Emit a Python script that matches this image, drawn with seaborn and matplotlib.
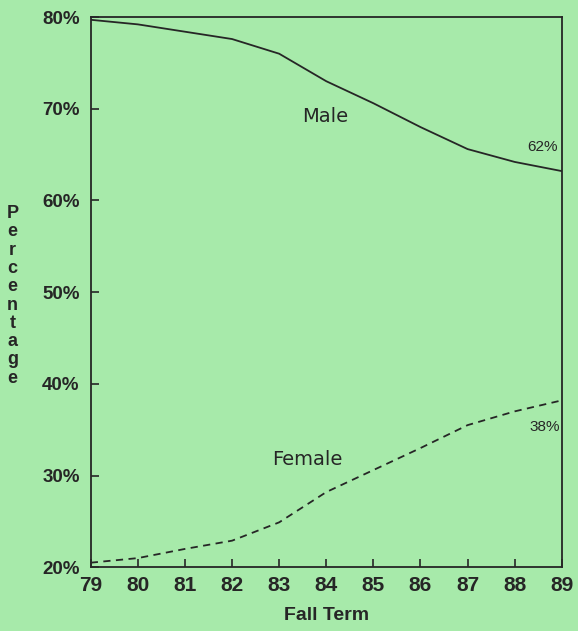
import matplotlib
matplotlib.use("Agg")
import matplotlib.pyplot as plt
import seaborn as sns
import pandas as pd

years = [79, 80, 81, 82, 83, 84, 85, 86, 87, 88, 89]
male = [79.7, 79.2, 78.4, 77.6, 76.0, 73.0, 70.6, 68.0, 65.6, 64.2, 63.2]
female = [20.5, 21.0, 22.0, 22.9, 24.9, 28.2, 30.6, 33.0, 35.5, 37.0, 38.2]
yticks = [20, 30, 40, 50, 60, 70, 80]
ytick_labels = ["20%", "30%", "40%", "50%", "60%", "70%", "80%"]

bg = "#a7eaaa"
ink = "#262626"

sns.set_theme(style="white")
plt.rcParams['font.family'] = ['Liberation Sans', 'DejaVu Sans']

fig = plt.figure(figsize=(5.78, 6.31), dpi=100, facecolor=bg)
ax = fig.add_axes([0.157, 0.101, 0.815, 0.872])
ax.set_facecolor(bg)

df = pd.DataFrame({"year": years * 2,
                   "pct": male + female,
                   "sex": ["Male"] * len(years) + ["Female"] * len(years)})
sns.lineplot(data=df[df.sex == "Male"], x="year", y="pct", color=ink, lw=1.3, ax=ax)
sns.lineplot(data=df[df.sex == "Female"], x="year", y="pct", color=ink, lw=1.3,
             ax=ax, linestyle=(0, (4, 3)))

ax.set_xlim(79, 89)
ax.set_ylim(20, 80)
ax.set_xticks(years)
ax.set_xticklabels([str(y) for y in years], fontsize=15, fontweight="bold", color=ink)
ax.set_yticks(yticks)
ax.set_yticklabels(ytick_labels, fontsize=13.5, fontweight="bold", color=ink)
ax.tick_params(axis="both", direction="in", length=6, width=1.2, color=ink,
               bottom=True, left=True)
ax.tick_params(axis="x", pad=6)
ax.tick_params(axis="y", pad=8)
for s in ax.spines.values():
    s.set_color(ink)
    s.set_linewidth(1.3)

ax.set_xlabel("Fall Term", fontsize=14, fontweight="bold", color=ink, labelpad=9)
ax.set_ylabel("")
fig.text(0.022, 0.531, "\n".join("Percentage"), ha="center", va="center",
         fontsize=13, fontweight="bold", color=ink, linespacing=1.1)

ax.text(83.97, 69.1, "Male", fontsize=14, color=ink, ha="center", va="center",
        family="DejaVu Sans")
ax.text(83.6, 31.7, "Female", fontsize=14, color=ink, ha="center", va="center",
        family="DejaVu Sans")
ax.text(88.58, 65.8, "62%", fontsize=11, color=ink, ha="center", va="center")
ax.text(88.64, 35.3, "38%", fontsize=11, color=ink, ha="center", va="center")

fig.savefig("out.png", dpi=100, facecolor=bg)
